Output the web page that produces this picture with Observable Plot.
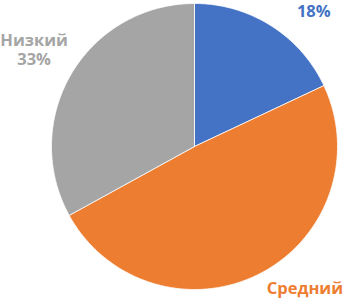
<!DOCTYPE html>
<html><head><meta charset="utf-8">
<script src="https://cdn.jsdelivr.net/npm/d3@7"></script>
<script src="https://cdn.jsdelivr.net/npm/@observablehq/plot@0.6"></script>
<style>body{margin:0;background:#fff}</style>
</head><body><div id="chart"></div>
<script>
const categories = ["Высокий", "Средний", "Низкий"];
const values = [18, 49, 33];
const colors = ["#4472C4", "#ED7D31", "#A5A5A5"];
const labels = [["18%"], ["Средний"], ["Низкий", "33%"]];

const W = 343, H = 301, R = 143, CX = 194, CY = 146;
const pie = d3.pie().sort(null).value(d => d.value)(categories.map((c, i) => ({c, value: values[i], i})));
const pts = [];
for (const a of pie) {
  pts.push({c: a.data.c, x: 0, y: 0});
  const n = Math.max(2, Math.ceil((a.endAngle - a.startAngle) / (Math.PI / 360)));
  for (let k = 0; k <= n; k++) {
    const t = a.startAngle + (a.endAngle - a.startAngle) * k / n;
    pts.push({c: a.data.c, x: Math.sin(t), y: Math.cos(t)});
  }
  pts.push({c: a.data.c, x: 0, y: 0});
}
const offs = [[35, -2], [39, 2], [-25, -16]];
const LINE = 19.5;
const lab = [];
pie.forEach((a, i) => {
  const m = (a.startAngle + a.endAngle) / 2;
  const lines = labels[i];
  lines.forEach((t, j) => {
    lab.push({c: a.data.c, text: t, x: 1.1 * Math.sin(m), y: 1.1 * Math.cos(m),
      dx: offs[i][0], dy: offs[i][1] + (j - (lines.length - 1) / 2) * LINE, color: colors[i]});
  });
});

const chart = Plot.plot({
  width: W, height: H, margin: 0,
  x: {domain: [-CX / R, (W - CX) / R], axis: null},
  y: {domain: [-(H - CY) / R, CY / R], axis: null},
  color: {domain: categories, range: colors},
  style: {fontFamily: "Open Sans, sans-serif", overflow: "visible"},
  marks: [
    Plot.line(pts, {x: "x", y: "y", z: "c", fill: "c", stroke: "white", strokeWidth: 0.8, curve: "linear"}),
    ...lab.map(l => Plot.text([l], {x: "x", y: "y", text: "text", dx: l.dx, dy: l.dy, fill: l.color, fontSize: 16.5, fontWeight: "bold"}))
  ]
});
document.getElementById("chart").appendChild(chart);
</script></body></html>
